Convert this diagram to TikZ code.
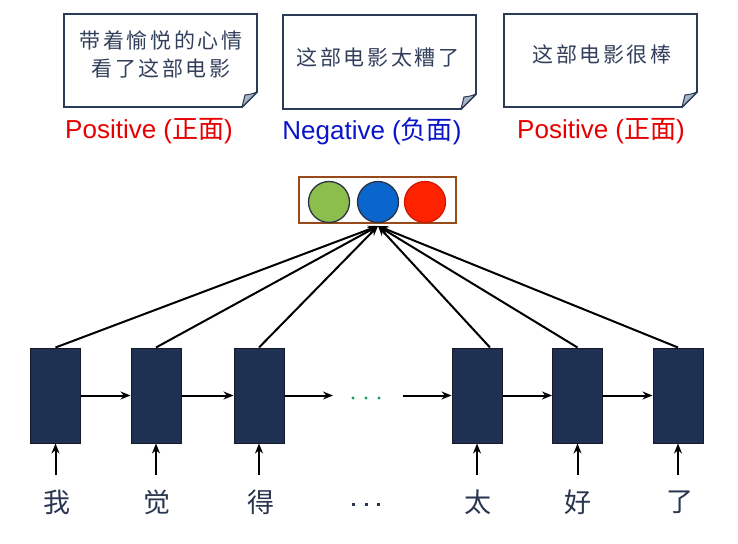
\documentclass[tikz,border=0pt]{standalone}
\usepackage{fontspec}
\setmainfont{Liberation Sans}
\newfontfamily\cjk{Noto Sans CJK SC}
\newfontfamily\cjkw[LetterSpace=12]{Noto Sans CJK SC}
\usetikzlibrary{arrows.meta}
\definecolor{cellfill}{HTML}{1F3152}
\definecolor{celldraw}{HTML}{131B2B}
\definecolor{notedraw}{HTML}{2B3A55}
\definecolor{notetxt}{HTML}{33405C}
\definecolor{foldgray}{HTML}{A9B4C4}
\definecolor{posred}{HTML}{E60000}
\definecolor{negblue}{HTML}{0A14C8}
\definecolor{boxbrown}{HTML}{9A4A1A}
\definecolor{cgreen}{HTML}{8BBE4C}
\definecolor{cblue}{HTML}{0A66CC}
\definecolor{cred}{HTML}{FF2200}
\definecolor{circdraw}{HTML}{2A3344}
\definecolor{dotgreen}{HTML}{1A9A5A}
\definecolor{wordc}{HTML}{2A3550}
\newcommand{\mynote}[4]{%
  \draw[notebox] (#1,#2) -- (#3,#2) -- (#3,#4-15) -- (#3-15,#4) -- (#1,#4) -- cycle;
  \filldraw[fold] (#3,#4-15) .. controls (#3-5,#4-13) .. (#3-12,#4-12) .. controls (#3-13,#4-6) .. (#3-15,#4) -- cycle;
}
\begin{document}
\begin{tikzpicture}[x=1pt,y=-1pt,
  notebox/.style={draw=notedraw, line width=1.8pt, fill=white, line join=miter},
  fold/.style={fill=foldgray, draw=notedraw, line width=1pt, line join=round},
  notetext/.style={text=notetxt, font=\fontsize{21}{28}\selectfont\cjkw, align=center, inner sep=0},
  poslabel/.style={text=posred, font=\fontsize{26}{30}\selectfont, inner sep=0},
  neglabel/.style={text=negblue, font=\fontsize{26}{30}\selectfont, inner sep=0},
  outbox/.style={draw=boxbrown, line width=1.8pt, minimum width=157pt, minimum height=46pt, inner sep=0},
  ball/.style={circle, draw=circdraw, line width=1.3pt, minimum size=41pt, inner sep=0},
  cell/.style={draw=celldraw, fill=cellfill, line width=1pt, minimum width=50pt, minimum height=95pt, inner sep=0},
  word/.style={text=wordc, font=\fontsize{27}{30}\selectfont\cjk, inner sep=0},
  conn/.style={line width=2pt, -{Stealth[length=10pt,width=8pt]}},
  feed/.style={line width=2pt, -{Stealth[length=10pt,width=8pt]}}
]
\useasboundingbox (0,0) rectangle (738,543);

% notes
\mynote{64}{14}{257}{107}
\mynote{283}{15}{476}{109}
\mynote{504}{14}{697}{107}
\node[notetext] (t1) at (161,54) {带着愉悦的心情\\看了这部电影};
\node[notetext] (t2) at (378,57) {这部电影太糟了};
\node[notetext] (t3) at (602,54) {这部电影很棒};

\node[poslabel] (l1) at (149,131) {Positive ({\cjk 正面})};
\node[neglabel] (l2) at (372,131) {Negative ({\cjk 负面})};
\node[poslabel] (l3) at (601,131) {Positive ({\cjk 正面})};

% output box
\node[outbox] (ob) at (377.5,200) {};
\node[ball, fill=cgreen] (bg) at (329,202) {};
\node[ball, fill=cblue] (bb) at (378,202) {};
\node[ball, fill=cred, draw=cred!80!black] (br) at (425,202) {};
\coordinate (tgt) at (378,226);

% cells
\node[cell] (c1) at (55.5,395.5) {};
\node[cell] (c2) at (156,395.5) {};
\node[cell] (c3) at (259,395.5) {};
\node[cell] (c4) at (477,395.5) {};
\node[cell] (c5) at (577.5,395.5) {};
\node[cell] (c6) at (678,395.5) {};

% connections to output
\draw[conn] (c1.north) -- (tgt);
\draw[conn] (c2.north) -- (tgt);
\draw[conn] (c3.north) -- (tgt);
\draw[conn] ([xshift=13pt]c4.north) -- (tgt);
\draw[conn] (c5.north) -- (tgt);
\draw[conn] (c6.north) -- (tgt);

% recurrent arrows
\coordinate (d1) at (333,395.5);
\coordinate (d2) at (403,395.5);
\draw[feed] (c1.east) -- (c2.west);
\draw[feed] (c2.east) -- (c3.west);
\draw[feed] (c3.east) -- (d1);
\draw[feed] (d2) -- (c4.west);
\draw[feed] (c4.east) -- (c5.west);
\draw[feed] (c5.east) -- (c6.west);
\foreach \x in {353,366,379} \fill[dotgreen] (\x,398) circle (1.7);

% words and inputs
\node[word] (w1) at (57,502) {我};
\node[word] (w2) at (157,502) {觉};
\node[word] (w3) at (261,502) {得};
\node[word] (w4) at (478,502) {太};
\node[word] (w5) at (578,502) {好};
\node[word] (w6) at (680,502) {了};
\foreach \x in {353,366,378} \fill[wordc] (\x-1.5,502.5) rectangle (\x+1.5,505.5);
\foreach \i/\x in {1/55.5,2/156,3/259,4/477,5/577.5,6/678} {
  \coordinate (i\i) at (\x,475);
  \draw[feed] (i\i) -- (c\i.south);
}
\end{tikzpicture}
\end{document}
